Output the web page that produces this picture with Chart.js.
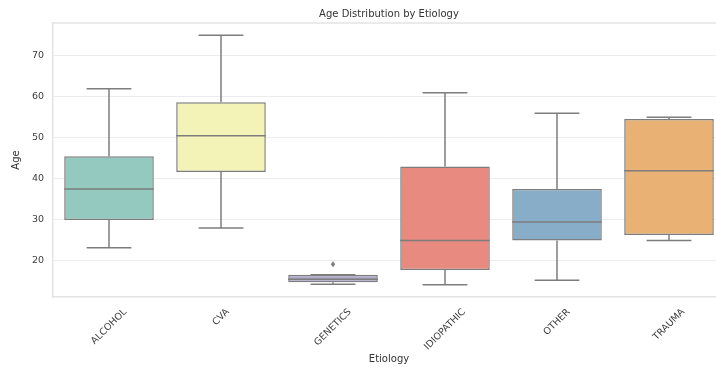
<!DOCTYPE html>
<html>
<head>
<meta charset="utf-8">
<script src="https://cdn.jsdelivr.net/npm/chart.js@4.4.1/dist/chart.umd.min.js"></script>
<style>
  html, body { margin: 0; padding: 0; background: #fff; overflow: hidden; }
  #wrap { position: absolute; left: 0; top: 0; width: 740px; height: 369px; }
</style>
</head>
<body>
<div id="wrap"><canvas id="chart"></canvas></div>
<script>
    var categories = ['ALCOHOL', 'CVA', 'GENETICS', 'IDIOPATHIC', 'OTHER', 'TRAUMA'];
    var whiskerLow = [23.2, 28, 14.3, 14.2, 15.3, 25];
    var q1 = [30, 41.7, 14.8, 17.8, 25, 26.3];
    var median = [37.5, 50.5, 15.5, 25, 29.5, 42];
    var q3 = [45.5, 58.7, 16.6, 43, 37.5, 54.6];
    var whiskerHigh = [62, 75, 16.6, 61, 56, 55];
    var outliers = [[], [], [19.2], [], [], []];
    var yTicks = [20, 30, 40, 50, 60, 70];

    var boxColors = ['#93c9bf', '#f4f3b7', '#aeaac8', '#e88a7f', '#88adc9', '#e9b173'];
    var lineColor = '#7d7d7d';
    var font = 'DejaVu Sans';

    var boxParts = {
        id: 'boxParts',
        beforeDatasetsDraw: function (chart) {
            // top spine, the other ones come from the scale borders
            var ctx = chart.ctx, a = chart.chartArea;
            ctx.save();
            ctx.strokeStyle = '#e3e3e3';
            ctx.lineWidth = 1.5;
            ctx.beginPath();
            ctx.moveTo(a.left, a.top);
            ctx.lineTo(a.right, a.top);
            ctx.stroke();
            ctx.restore();
        },
        afterDatasetsDraw: function (chart) {
            var ctx = chart.ctx;
            var xs = chart.scales.x, ys = chart.scales.y;
            var meta = chart.getDatasetMeta(0);
            ctx.save();
            ctx.strokeStyle = lineColor;
            ctx.lineWidth = 1.5;
            categories.forEach(function (c, i) {
                var x = xs.getPixelForValue(i);
                var w = meta.data[i].width;
                var cap = w / 4;
                var yLo = ys.getPixelForValue(whiskerLow[i]);
                var yQ1 = ys.getPixelForValue(q1[i]);
                var yMed = ys.getPixelForValue(median[i]);
                var yQ3 = ys.getPixelForValue(q3[i]);
                var yHi = ys.getPixelForValue(whiskerHigh[i]);
                ctx.beginPath();
                ctx.moveTo(x, yQ3); ctx.lineTo(x, yHi);
                ctx.moveTo(x - cap, yHi); ctx.lineTo(x + cap, yHi);
                ctx.moveTo(x, yQ1); ctx.lineTo(x, yLo);
                ctx.moveTo(x - cap, yLo); ctx.lineTo(x + cap, yLo);
                ctx.moveTo(x - w / 2, yMed); ctx.lineTo(x + w / 2, yMed);
                ctx.stroke();
                ctx.fillStyle = lineColor;
                outliers[i].forEach(function (v) {
                    var y = ys.getPixelForValue(v);
                    ctx.beginPath();
                    ctx.moveTo(x, y - 3); ctx.lineTo(x + 2.2, y);
                    ctx.lineTo(x, y + 3); ctx.lineTo(x - 2.2, y);
                    ctx.closePath();
                    ctx.fill();
                });
            });
            ctx.restore();
        },
        afterDraw: function (chart) {
            // rotated category labels, centered under each tick like matplotlib
            var ctx = chart.ctx, xs = chart.scales.x, a = chart.chartArea;
            ctx.save();
            ctx.font = '9.5px "' + font + '"';
            ctx.fillStyle = '#3d3d3d';
            ctx.textAlign = 'center';
            ctx.textBaseline = 'middle';
            categories.forEach(function (c, i) {
                var w = ctx.measureText(c).width;
                var h = 7;
                var H = (w + h) * Math.SQRT1_2;
                ctx.save();
                ctx.translate(xs.getPixelForValue(i), a.bottom + 11 + H / 2);
                ctx.rotate(-Math.PI / 4);
                ctx.fillText(c, 0, 0);
                ctx.restore();
            });
            ctx.restore();
        }
    };

    var ctx = document.getElementById('chart');

    var myChart = new Chart(ctx, {
        type: 'bar',
        data: {
            labels: categories,
            datasets: [{
                data: categories.map(function (c, i) { return [q1[i], q3[i]]; }),
                backgroundColor: boxColors,
                borderColor: lineColor,
                borderWidth: 1.5,
                borderSkipped: false,
                barPercentage: 0.8,
                categoryPercentage: 1
            }]
        },
        options: {
            responsive: true,
            maintainAspectRatio: false,
            animation: false,
            layout: { padding: { left: 0, right: 15, top: 0, bottom: 0 } },
            plugins: {
                legend: { display: false },
                tooltip: { enabled: false },
                title: {
                    display: true,
                    text: 'Age Distribution by Etiology',
                    fullSize: false,
                    color: '#333',
                    font: { family: font, size: 10, weight: 'normal' },
                    padding: { top: 8, bottom: 3 }
                }
            },
            scales: {
                x: {
                    grid: { display: false },
                    border: { color: '#e3e3e3', width: 1.5 },
                    ticks: { display: false },
                    title: {
                        display: true,
                        text: 'Etiology',
                        color: '#333',
                        font: { family: font, size: 10 },
                        padding: { top: 0, bottom: 4 }
                    },
                    afterFit: function (scale) { scale.height = 72; }
                },
                y: {
                    min: 11.2,
                    max: 78,
                    grid: { color: '#ececec', lineWidth: 1, drawTicks: false },
                    border: { color: '#e3e3e3', width: 1.5 },
                    ticks: {
                        stepSize: 10,
                        includeBounds: false,
                        padding: 9,
                        color: '#3d3d3d',
                        font: { family: font, size: 9.5 },
                        callback: function (v) { return yTicks.indexOf(v) >= 0 ? v : ''; }
                    },
                    title: {
                        display: true,
                        text: 'Age',
                        color: '#333',
                        font: { family: font, size: 10 },
                        padding: { top: 10, bottom: 0 }
                    },
                    afterFit: function (scale) { scale.width = 53; }
                }
            }
        },
        plugins: [boxParts]
    });
</script>
</body>
</html>
